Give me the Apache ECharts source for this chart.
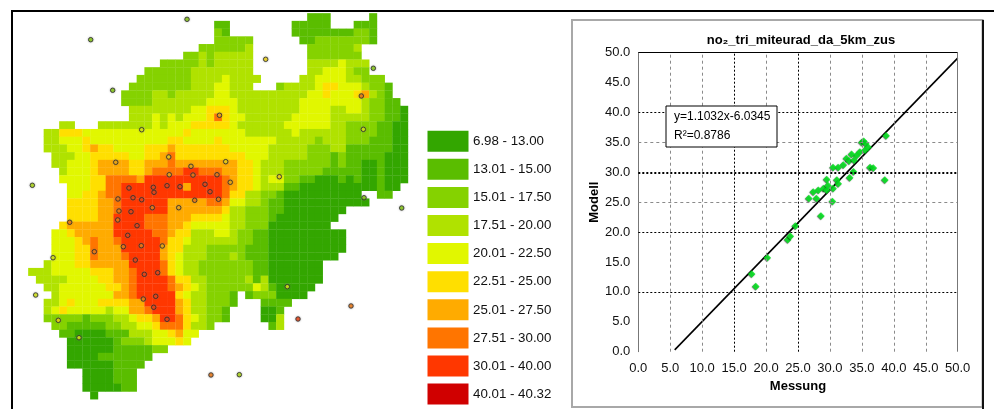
<!DOCTYPE html>
<html><head><meta charset="utf-8">
<style>html,body{margin:0;padding:0;background:#fff}#c{width:994px;height:409px}</style>
<script src="https://cdn.jsdelivr.net/npm/echarts@6/dist/echarts.min.js"></script>
</head><body><div id="c"></div>
<script>
const classColors = ['#33A600','#5ABD00','#85D200','#B0E200','#E1F700','#FFDF00','#FFAB00','#FF7500','#FF3700','#D00000'];
const classLabels = ['6.98 - 13.00','13.01 - 15.00','15.01 - 17.50','17.51 - 20.00','20.01 - 22.50','22.51 - 25.00','25.01 - 27.50','27.51 - 30.00','30.01 - 40.00','40.01 - 40.32'];
// NO2 class per grid row, as "fromCol-toCol:class" runs
const mapRows = [
"36-38:1 44:1",
"24-25:1 34-38:1 42-44:1",
"24:2 25:1 34-41:1 42-43:2 44:1",
"24-28:2 35-36:1 37-43:2 44:1",
"22-27:2 28:3 36-41:2 42:3",
"20-21:2 22:3 23:2 24-28:3 36-42:2",
"17-21:2 22:3 23:2 24-28:3 36-39:3 40:4 41-43:3",
"15-20:2 21-28:3 36-37:3 38-40:4 41:3 42-43:2",
"14-20:2 21-24:3 25:4 26-29:3 35-36:3 37-40:4 41-42:3 43-45:2",
"13-20:2 21-23:3 24-25:4 26-28:3 32:2 33-36:3 37:4 38-39:5 40-42:4 43:3 44-45:2 46:1",
"12-15:2 16-17:3 18:2 19-23:3 24-25:4 26-35:3 36-37:4 38:5 39-41:4 42:5 43:6 44:3 45:2 46:1",
"12-15:2 16-22:3 23-26:4 27-34:3 35-42:4 43:3 44-45:2 46-47:1",
"13-20:3 21-22:4 23-25:5 26:4 27-34:3 35-38:4 39-40:3 41-42:4 43:3 44-45:2 46-47:1 48:0",
"13-15:3 16:4 17:3 18:4 19:3 20-22:4 23:5 24:7 25:5 26-27:4 28-33:3 34-38:4 39-43:3 44-45:2 46-47:1 48:0",
"4-5:3 9-15:3 16:4 17:3 18-20:4 21-25:5 26:4 27-32:3 33-38:4 39-40:3 41-44:2 45-46:1 47-48:0",
"2-3:3 4-6:5 7-19:4 20:5 21-27:4 28-33:3 34:4 35-40:3 41-44:2 45-46:1 47-48:0",
"2-3:3 4-6:4 7:5 8-17:4 18-19:5 20-23:4 24:5 25-31:4 32-36:3 37:2 38-40:3 41-43:2 44-46:1 47-48:0",
"2-4:3 5-6:4 7:5 8:6 9-10:5 11-14:4 15-17:5 18:6 19-25:5 26-30:4 31-35:3 36-38:2 39-40:3 41-46:1 47-48:0",
"3-5:3 6-7:4 8-12:5 13-14:4 15-16:5 17:6 18:7 19-27:5 28-30:4 31-35:3 36-38:2 39:1 40:2 41-45:1 46-48:0",
"3-4:3 5-7:4 8:5 9-12:6 13-14:5 15-17:6 18:7 19-26:6 27-28:5 29:4 30-32:3 33-38:2 39:1 40:2 41-42:1 43-44:0 45:1 46-48:0",
"4:3 5-7:4 8:5 9-12:6 13-14:5 15:6 16-19:7 20-21:8 22-24:7 25-26:6 27-28:5 29:4 30-32:3 33-37:2 38-42:1 43-44:0 45:1 46-48:0",
"4-7:4 8-9:5 10-13:7 14:6 15-24:8 25:7 26:6 27-28:5 29:4 30:3 31-32:4 33-34:2 35-36:1 37-39:0 40:1 41:0 42:1 43-44:0 45:1 46-48:0",
"5-7:4 8-9:5 10-11:7 12-19:8 20:6 21-24:8 25:7 26:6 27-28:5 29:4 30-32:3 33-34:1 35-44:0 45:1 46-47:0",
"5-6:4 7-8:5 9:6 10-11:7 12-24:8 25:7 26-27:5 28-29:3 30-31:2 32:1 33-42:0 45-46:1",
"5-8:5 9-10:6 11:7 12-17:8 18-22:6 23-24:7 25:6 26-27:4 28-29:3 30:2 31-32:1 33-43:0",
"5-8:5 9-10:6 11:7 12-17:8 18-24:6 25:5 26-27:3 28-30:2 31-32:1 33-40:0",
"5-8:5 9-10:6 11-14:8 15-17:7 18-20:6 21-24:5 25:4 26-27:3 28-30:2 31:1 32-39:0",
"4:5 5-10:6 11-14:8 15-17:7 18-19:6 20:5 21-25:4 26-27:3 28-30:2 31-38:0",
"3-4:4 5:5 6-10:6 11-15:8 16-17:7 18:6 19-20:5 21-23:3 24-25:4 26:3 27-28:2 29-30:1 31-40:0",
"3-5:4 6:5 7:6 8:7 9-10:6 11:7 12-16:8 17:7 18-19:5 20:4 21-26:3 27-28:2 29-30:1 31-40:0",
"3-5:4 6-7:5 8:7 9-11:6 12-16:8 17:6 18-19:5 20-22:3 23-27:2 28-30:1 31-40:0",
"3-5:4 6-7:5 8:7 9-11:6 12:7 13-16:8 17:6 18:5 19:4 20-22:3 23-25:2 26:3 27:2 28-30:1 31-39:0",
"2:3 3-5:4 6-7:5 8-12:6 13-16:8 17:7 18:5 19:4 20-21:3 22-28:2 29-30:1 31-37:0",
"0-2:3 3-7:4 8-10:5 11-12:6 13:7 14-16:8 17:7 18:5 19:4 20-21:3 22-28:2 29-30:1 31-37:0",
"1-4:3 5-8:4 9-10:5 11-12:6 13:7 14-17:8 18:7 19-20:5 21-22:3 23-27:2 28:3 29:1 30:3 31-37:0",
"2-3:3 4-9:4 10-11:5 12:6 13:7 14-17:8 18:7 19:6 20:5 21:4 22:3 23-28:2 29:4 30:3 31:1 32-36:0",
"3:3 4-10:4 11-12:6 13:7 14-18:8 19:5 20:4 21-22:3 23-25:2 26:1 28:1 29-31:2 32-35:0",
"2-3:3 4:4 5:5 6-8:4 9-12:5 13-14:6 15-18:8 19:6 20:5 21-22:3 23-25:2 26:1 30-33:1",
"2:3 3:4 4:5 5-9:4 10:3 11-12:4 13-14:6 15:7 16-18:8 19:6 20:5 21-22:3 23-24:2 25:1 30-31:0 32:1",
"2-4:2 5-6:2 7:1 8-10:2 11-12:3 13:4 14-15:5 16:6 17-18:8 19:7 20:5 21:4 22:3 23-24:2 25:1 30-31:0 32:3",
"3-4:2 5-9:1 10-11:2 12-13:3 14-15:4 16:5 17-19:7 20:5 21-22:3 23:2 31:1 32:3",
"4-5:1 6-9:0 10-12:1 13-15:3 16-17:4 18:5 19:6 20-21:4",
"5-10:0 11:1 12-14:2 15:3 16-18:4 19:5 20:4",
"5-10:0 11-15:1 16-17:2",
"5-8:0 9-15:1",
"5-10:0 11-14:1",
"7-10:0 11-13:1",
"7-10:0 11-13:1",
"7-11:0 12-13:1",
"8:0"
];
// measuring stations: grid column, grid row, NO2 class
const stationCol = [20.48,8.05,10.89,14.63,11.28,18.12,20.99,18.19,21.25,24.35,24.67,0.52,12.99,16.13,16.22,17.90,19.57,22.80,23.45,11.57,13.51,14.63,21.47,24.54,30.63,44.52,42.97,43.23,25.47,26.06,32.39,43.32,11.70,13.25,16.00,19.41,11.54,5.34,14.03,12.83,12.26,14.58,17.29,8.52,3.19,13.81,14.97,16.70,0.95,16.44,14.84,16.18,3.87,17.90,6.54,23.57,48.18,33.42,41.64,34.80,27.23];
const stationRow = [0.78,3.42,9.97,15.08,19.30,18.61,19.82,20.91,20.95,20.91,13.21,22.28,22.63,22.54,23.19,22.33,22.46,22.15,23.11,24.05,23.89,24.15,24.22,24.09,5.96,7.12,10.71,15.03,19.22,21.89,21.17,23.89,25.61,25.70,25.18,25.18,26.77,27.07,27.51,28.76,30.23,30.10,30.14,30.88,31.66,31.96,33.81,33.60,36.49,36.66,37.01,38.08,39.77,39.64,42.02,46.85,25.22,35.41,37.91,39.60,46.81];
const stationClass = [2,2,2,4,6,5,6,6,7,7,6,3,8,8,8,8,8,8,8,7,8,8,7,7,5,2,7,4,5,6,5,2,7,8,7,6,7,7,8,8,7,7,6,7,4,8,8,8,4,8,7,8,5,8,4,7,2,4,7,8,3];

const measured = [17.75,18.4,20.2,23.4,23.8,24.6,28.6,38.8,38.6,36.3,36.8,35.0,35.3,35.6,36.0,35.5,34.7,34.2,33.4,32.6,33.0,33.8,33.7,33.1,32.1,31.3,30.5,29.5,31.1,31.3,30.5,29.0,28.2,27.4,27.9,26.7,30.4,29.7,29.5];
const modelled = [13.0,10.9,15.7,18.7,19.3,21.0,22.7,36.1,28.7,30.8,30.7,35.0,35.2,34.8,34.2,33.7,33.4,32.8,33.0,32.3,31.9,32.0,30.1,29.1,31.2,30.8,30.8,28.8,28.7,28.1,27.3,27.3,27.0,26.7,25.6,25.6,25.1,27.8,27.0];
const fitLine = [[5.7,0.3],[50,49.1]];
const gridXGray = [5,10,20,30,35,40,45];
const gridXBlack = [15,25];
const gridYGray = [25,35];
const gridYBlack = [10,20,40];
const gridYHeavy = [30];
const chartTitle = 'no₂_tri_miteurad_da_5km_zus';
const fitText = ['y=1.1032x-6.0345','R²=0.8786'];

const font = '"Liberation Sans", Arial, sans-serif';
const cells = [];
mapRows.forEach((row, r) => row.split(' ').forEach(run => {
  const [span, v] = run.split(':');
  const [a, b] = span.split('-').map(Number);
  for (let c = a; c <= (b === undefined ? a : b); c++) cells.push([c, r, +v]);
}));

const graphic = [];
graphic.push({type:'rect',silent:true,z:0,shape:{x:572,y:20,width:410.5,height:387},style:{fill:'#fff',stroke:'#a8a8a8',lineWidth:2}});
graphic.push({type:'line',silent:true,z:1,shape:{x1:983,y1:20,x2:983,y2:409},style:{stroke:'#111',lineWidth:2}});
graphic.push({type:'line',silent:true,z:1,shape:{x1:11,y1:11,x2:994,y2:11},style:{stroke:'#000',lineWidth:2}});
graphic.push({type:'line',silent:true,z:1,shape:{x1:12,y1:10,x2:12,y2:409},style:{stroke:'#000',lineWidth:2}});
classLabels.forEach((t, i) => {
  graphic.push({type:'rect',silent:true,shape:{x:427.5,y:130.7+28.1*i,width:41,height:21},style:{fill:classColors[i]}});
  graphic.push({type:'text',silent:true,style:{x:473,y:141.3+28.1*i,text:t,font:'13.3px '+font,fill:'#111',textVerticalAlign:'middle'}});
});
graphic.push({type:'rect',silent:true,z:20,shape:{x:666,y:106,width:111,height:41},style:{fill:'#fff',stroke:'#000',lineWidth:1}});
graphic.push({type:'text',silent:true,z:21,style:{x:674,y:116.5,text:fitText[0],font:'12px '+font,fill:'#000',textVerticalAlign:'middle'}});
graphic.push({type:'text',silent:true,z:21,style:{x:674,y:135.5,text:fitText[1],font:'12px '+font,fill:'#000',textVerticalAlign:'middle'}});

const lineStyleGray = {color:'#8a8a8a',type:[3,3],width:1};
const lineStyleBlack = {color:'#000',type:[2,2],width:1};
const mk = (key, arr, st) => arr.map(v => ({[key]: v, lineStyle: st}));

const option = {
  animation:false,
  backgroundColor:'#fff',
  graphic,
  title:{text:chartTitle,left:796,top:29,textAlign:'center',textStyle:{fontFamily:font,fontSize:13,fontWeight:'bold',color:'#000'}},
  grid:[
    {left:28.3,top:13.3,width:379.75,height:386,show:false},
    {left:638.3,top:52.7,width:319.4,height:299,show:false}
  ],
  xAxis:[
    {type:'value',gridIndex:0,min:0,max:49,show:false},
    {type:'value',gridIndex:1,min:0,max:50,interval:5,
      axisLine:{show:false},axisTick:{show:false},splitLine:{show:false},
      axisLabel:{margin:10,fontFamily:font,fontSize:13,color:'#111',formatter:v=>v.toFixed(1),showMinLabel:true,showMaxLabel:true},
      name:'Messung',nameLocation:'middle',nameGap:28,nameTextStyle:{fontFamily:font,fontSize:13,fontWeight:'bold',color:'#000'}}
  ],
  yAxis:[
    {type:'value',gridIndex:0,min:0,max:50,inverse:true,show:false},
    {type:'value',gridIndex:1,min:0,max:50,interval:5,
      axisLine:{show:true,lineStyle:{color:'#777',width:1}},axisTick:{show:false},splitLine:{show:false},
      axisLabel:{margin:8,fontFamily:font,fontSize:13,color:'#111',formatter:v=>v.toFixed(1)},
      name:'Modell',nameLocation:'middle',nameGap:35,nameTextStyle:{fontFamily:font,fontSize:13,fontWeight:'bold',color:'#000'}}
  ],
  series:[
    {type:'custom',xAxisIndex:0,yAxisIndex:0,silent:true,z:2,data:cells,clip:false,
      encode:{x:0,y:1},
      renderItem:(params,api)=>{
        const a=api.coord([api.value(0),api.value(1)]);
        const b=api.coord([api.value(0)+1,api.value(1)+1]);
        return {type:'rect',shape:{x:a[0]-0.15,y:a[1]-0.15,width:b[0]-a[0]+0.3,height:b[1]-a[1]+0.3},style:{fill:classColors[api.value(2)]}};
      }},
    {type:'scatter',xAxisIndex:0,yAxisIndex:0,silent:true,z:5,symbolSize:4.5,
      data:stationCol.map((c,i)=>({value:[c,stationRow[i]],itemStyle:{color:classColors[stationClass[i]],borderColor:'#2a2a2a',borderWidth:1,shadowColor:'rgba(120,120,120,0.6)',shadowBlur:2}}))},
    {type:'line',xAxisIndex:1,yAxisIndex:1,data:[],silent:true,z:1,
      markLine:{silent:true,symbol:'none',label:{show:false},animation:false,data:[
        ...mk('xAxis',gridXGray,lineStyleGray),
        ...mk('xAxis',gridXBlack,lineStyleBlack),
        ...mk('yAxis',gridYGray,lineStyleGray),
        ...mk('yAxis',gridYBlack,lineStyleBlack),
        ...mk('yAxis',gridYHeavy,{color:'#000',type:[2,2],width:2}),
        {yAxis:50,lineStyle:{color:'#000',type:'solid',width:1}},
        {xAxis:50,lineStyle:{color:'#777',type:'solid',width:1}}
      ]}},
    {type:'line',xAxisIndex:1,yAxisIndex:1,data:fitLine,showSymbol:false,silent:true,z:3,lineStyle:{color:'#000',width:1.6}},
    {type:'scatter',xAxisIndex:1,yAxisIndex:1,silent:true,z:4,symbol:'diamond',symbolSize:7.5,
      data:measured.map((m,i)=>[m,modelled[i]]),
      itemStyle:{color:'#00F01E',borderWidth:0,shadowColor:'rgba(0,0,0,0.75)',shadowBlur:1,shadowOffsetX:-0.5,shadowOffsetY:0.5}}
  ]
};
echarts.init(document.getElementById('c'),null,{renderer:'canvas'}).setOption(option);
</script></body></html>
